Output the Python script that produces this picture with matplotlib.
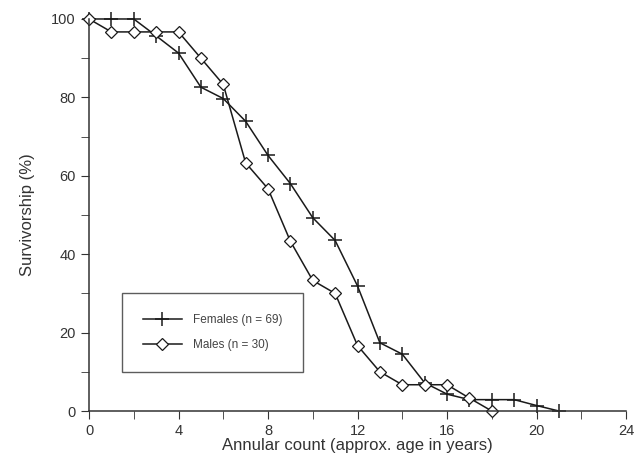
import numpy as np
import matplotlib
matplotlib.use('Agg')
import matplotlib.pyplot as plt

plt.rcParams['font.family'] = ['Liberation Sans', 'DejaVu Sans']

# annular count (years) and survivorship (%) per sex
fem_age = list(range(0, 22))
fem_surv = [100, 100, 100, 95.7, 91.3, 82.6, 79.7, 73.9, 65.2, 58.0, 49.3,
            43.5, 31.9, 17.4, 14.5, 7.2, 4.3, 2.9, 2.9, 2.9, 1.4, 0]
male_age = list(range(0, 19))
male_surv = [100, 96.7, 96.7, 96.7, 96.7, 90.0, 83.3, 63.3, 56.7, 43.3, 33.3,
             30.0, 16.7, 10.0, 6.7, 6.7, 6.7, 3.3, 0]

fig = plt.figure(figsize=(6.34, 4.63), dpi=100)
ax = fig.add_axes([0.1404, 0.1123, 0.8470, 0.8467])

ax.plot(fem_age, fem_surv, color='#1a1a1a', lw=1.1, marker='+', ms=10, mew=1.1,
        clip_on=False, label='Females (n = 69)')
ax.plot(male_age, male_surv, color='#1a1a1a', lw=1.1, marker='D', ms=6.5, mew=0.9,
        mfc='white', clip_on=False, label='Males (n = 30)')

ax.set_xlim(0, 24)
ax.set_ylim(0, 100)
ax.set_xticks(np.arange(0, 25, 4))
ax.set_xticks(np.arange(0, 25, 2), minor=True)
ax.set_yticks(np.arange(0, 101, 20))
ax.set_yticks(np.arange(0, 101, 10), minor=True)
ax.tick_params(which='both', direction='out', color='#333333', labelsize=10.5,
               labelcolor='#333333')
ax.tick_params(which='major', length=6)
ax.tick_params(which='minor', length=6)
for s in ['top', 'right']:
    ax.spines[s].set_visible(False)
for s in ['left', 'bottom']:
    ax.spines[s].set_color('#333333')
    ax.spines[s].set_linewidth(1.1)

ax.set_xlabel('Annular count (approx. age in years)', fontsize=12, color='#333333', labelpad=0)
ax.set_ylabel('Survivorship (%)', fontsize=12, color='#333333', labelpad=12)

leg = ax.legend(loc='lower left', bbox_to_anchor=(0.061, 0.099), fontsize=8.5,
                fancybox=False, frameon=True, handlelength=3.3, handletextpad=0.9,
                borderpad=1.8, labelspacing=1.1, borderaxespad=0)
leg.get_frame().set_edgecolor('#333333')
leg.get_frame().set_linewidth(1.0)
for t in leg.get_texts():
    t.set_color('#444444')

fig.savefig('out.png', dpi=100)
